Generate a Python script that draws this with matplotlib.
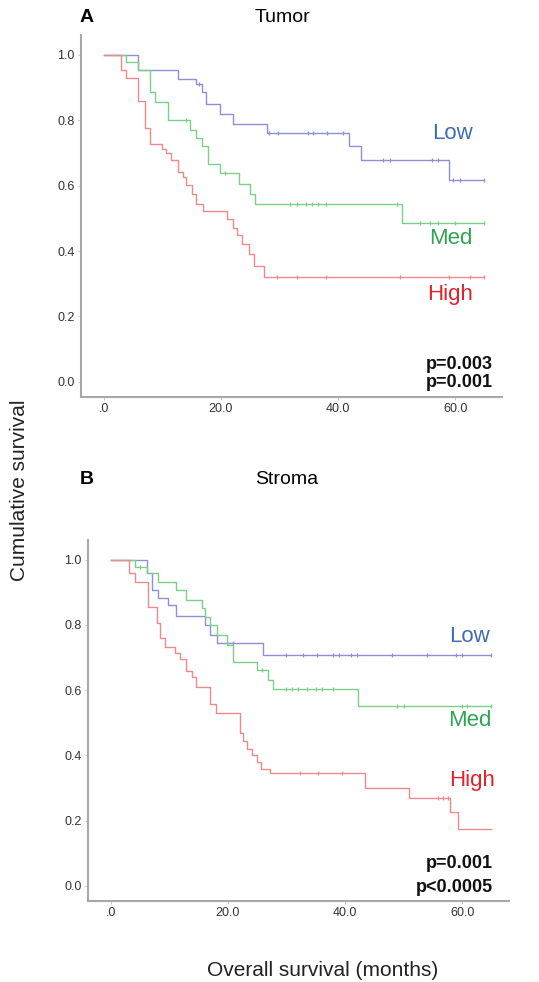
"""Kaplan-Meier curves, tumor vs stroma expression groups."""

import matplotlib
matplotlib.use("Agg")
import matplotlib.pyplot as plt

plt.rcParams["font.family"] = ["Liberation Sans", "DejaVu Sans"]

# --- Panel A: Tumor -------------------------------------------------------
tumor_low_t = [0, 5.9, 12.7, 15.7, 16.7, 17.5, 19.8, 22.0, 27.8, 41.8, 44.0, 58.9, 65.0]
tumor_low_s = [1.0, 0.953, 0.926, 0.91, 0.885, 0.85, 0.819, 0.789, 0.76, 0.722, 0.679, 0.618, 0.618]
tumor_low_cens = [16.2, 28.2, 29.7, 34.9, 35.7, 38.1, 40.9, 47.7, 48.9, 56.0, 57.0, 59.7, 60.9, 65.0]

tumor_med_t = [0, 3.8, 5.9, 7.9, 8.7, 11.0, 14.7, 15.8, 16.7, 17.8, 19.8, 23.0, 25.0, 25.8, 50.9, 65.0]
tumor_med_s = [1.0, 0.976, 0.953, 0.885, 0.855, 0.80, 0.771, 0.746, 0.722, 0.667, 0.638,
               0.604, 0.575, 0.545, 0.487, 0.487]
tumor_med_cens = [14.0, 20.7, 31.8, 33.0, 34.5, 35.5, 36.5, 38.0, 50.0, 54.0, 55.7, 57.0, 60.0, 65.0]

tumor_high_t = [0, 2.9, 3.8, 5.9, 7.0, 7.9, 9.9, 10.7, 11.5, 12.7, 13.6, 14.1, 15.0, 15.8,
                17.0, 21.0, 22.0, 22.8, 23.6, 24.8, 25.6, 27.3, 65.0]
tumor_high_s = [1.0, 0.953, 0.929, 0.857, 0.776, 0.727, 0.712, 0.699, 0.677, 0.641, 0.626,
                0.601, 0.575, 0.545, 0.522, 0.497, 0.47, 0.45, 0.42, 0.39, 0.355, 0.32, 0.32]
tumor_high_cens = [29.5, 33.0, 38.0, 50.5, 59.0, 62.5, 65.0]

# --- Panel B: Stroma ------------------------------------------------------
stroma_low_t = [0, 6.1, 7.0, 8.1, 9.8, 11.1, 16.1, 16.9, 18.1, 26.0, 65.0]
stroma_low_s = [1.0, 0.959, 0.908, 0.882, 0.862, 0.828, 0.80, 0.769, 0.744, 0.708, 0.708]
stroma_low_cens = [20.9, 30.0, 32.9, 35.2, 38.0, 39.0, 41.0, 42.0, 48.0, 54.0, 59.0, 60.0, 65.0]

stroma_med_t = [0, 4.1, 6.1, 8.1, 11.1, 12.9, 15.5, 16.1, 16.9, 18.1, 19.8, 20.9, 24.9,
                26.9, 27.7, 42.2, 65.0]
stroma_med_s = [1.0, 0.977, 0.959, 0.933, 0.908, 0.877, 0.851, 0.825, 0.80, 0.769, 0.738,
                0.687, 0.661, 0.631, 0.603, 0.552, 0.552]
stroma_med_cens = [5.0, 25.8, 30.0, 31.0, 32.0, 33.5, 35.0, 36.0, 38.0, 48.8, 50.0, 59.9, 60.8, 65.0]

stroma_high_t = [0, 3.1, 4.1, 6.4, 7.8, 8.4, 9.2, 10.9, 11.8, 12.9, 13.8, 14.6, 16.9, 18.0,
                 22.0, 22.6, 23.3, 24.1, 25.0, 25.7, 27.2, 43.4, 51.0, 58.0, 59.3, 65.0]
stroma_high_s = [1.0, 0.959, 0.933, 0.856, 0.805, 0.759, 0.733, 0.713, 0.697, 0.66, 0.641,
                 0.61, 0.559, 0.531, 0.47, 0.445, 0.42, 0.40, 0.38, 0.36, 0.345, 0.30,
                 0.271, 0.226, 0.175, 0.175]
stroma_high_cens = [32.3, 35.4, 39.5, 55.9, 56.8, 57.6]

group_names = ["Low", "Med", "High"]
x_ticks = [0, 20, 40, 60]
x_tick_labels = [".0", "20.0", "40.0", "60.0"]
y_ticks = [0.0, 0.2, 0.4, 0.6, 0.8, 1.0]
pvals_tumor = ["p=0.003", "p=0.001"]
pvals_stroma = ["p=0.001", "p<0.0005"]

LINE_COLORS = {"Low": "#8e8fd6", "Med": "#7ccf86", "High": "#f08a8a"}
TEXT_COLORS = {"Low": "#3d6db3", "Med": "#2ea553", "High": "#e3222c"}


def level_at(t_arr, s_arr, t):
    s = s_arr[0]
    for ti, si in zip(t_arr, s_arr):
        if ti <= t:
            s = si
    return s


def draw_panel(ax, curves, label_pos, pvals, pval_x, pval_y):
    for name, (t, s, cens) in zip(group_names, curves):
        ax.step(t, s, where="post", color=LINE_COLORS[name], lw=1.0, zorder=2)
        cy = [level_at(t, s, c) for c in cens]
        ax.plot(cens, cy, ls="none", marker="|", ms=3.5, mew=0.9,
                color=LINE_COLORS[name], zorder=3)
    for name, (lx, ly) in zip(group_names, label_pos):
        ax.text(lx, ly, name, color=TEXT_COLORS[name], fontsize=16,
                ha="right", va="center")
    for i, p in enumerate(pvals):
        ax.text(pval_x, pval_y[i], p, fontsize=13, fontweight="bold",
                ha="right", va="center", color="#111111")

    ax.set_xlim(-3.9, 68)
    ax.set_ylim(-0.046, 1.06)
    ax.set_xticks(x_ticks)
    ax.set_xticklabels(x_tick_labels)
    ax.set_yticks(y_ticks)
    ax.set_yticklabels([f"{v:.1f}" for v in y_ticks])
    for sp in ("top", "right"):
        ax.spines[sp].set_visible(False)
    for sp in ("left", "bottom"):
        ax.spines[sp].set_color("#a8a8a8")
        ax.spines[sp].set_linewidth(1.5)
    ax.tick_params(axis="both", length=2.5, width=0.6, color="#bbbbbb",
                   labelsize=9, labelcolor="#333333", pad=2)


fig = plt.figure(figsize=(5.39, 9.82), dpi=100)
fig.patch.set_facecolor("white")

ax_a = fig.add_axes([0.1503, 0.5957, 0.781, 0.3687])
draw_panel(
    ax_a,
    [(tumor_low_t, tumor_low_s, tumor_low_cens),
     (tumor_med_t, tumor_med_s, tumor_med_cens),
     (tumor_high_t, tumor_high_s, tumor_high_cens)],
    [(63.0, 0.759), (63.0, 0.439), (63.0, 0.268)],
    pvals_tumor, 66.5, [0.052, -0.003],
)

ax_b = fig.add_axes([0.1633, 0.0825, 0.781, 0.3675])
draw_panel(
    ax_b,
    [(stroma_low_t, stroma_low_s, stroma_low_cens),
     (stroma_med_t, stroma_med_s, stroma_med_cens),
     (stroma_high_t, stroma_high_s, stroma_high_cens)],
    [(64.8, 0.766), (65.1, 0.508), (65.6, 0.323)],
    pvals_stroma, 65.3, [0.068, -0.006],
)

fig.text(80 / 539, 1 - 18 / 982, "A", fontsize=14, fontweight="bold",
         ha="left", va="center")
fig.text(255 / 539, 1 - 18 / 982, "Tumor", fontsize=14, ha="left", va="center")
fig.text(80 / 539, 1 - 480 / 982, "B", fontsize=14, fontweight="bold",
         ha="left", va="center")
fig.text(255 / 539, 1 - 480 / 982, "Stroma", fontsize=14, ha="left", va="center")
fig.text(20 / 539, 1 - 490 / 982, "Cumulative survival", fontsize=15,
         rotation=90, ha="center", va="center", color="#222222")
fig.text(323 / 539, 1 - 970 / 982, "Overall survival (months)", fontsize=15,
         ha="center", va="center", color="#222222")

fig.savefig("out.png", dpi=100, facecolor="white")
